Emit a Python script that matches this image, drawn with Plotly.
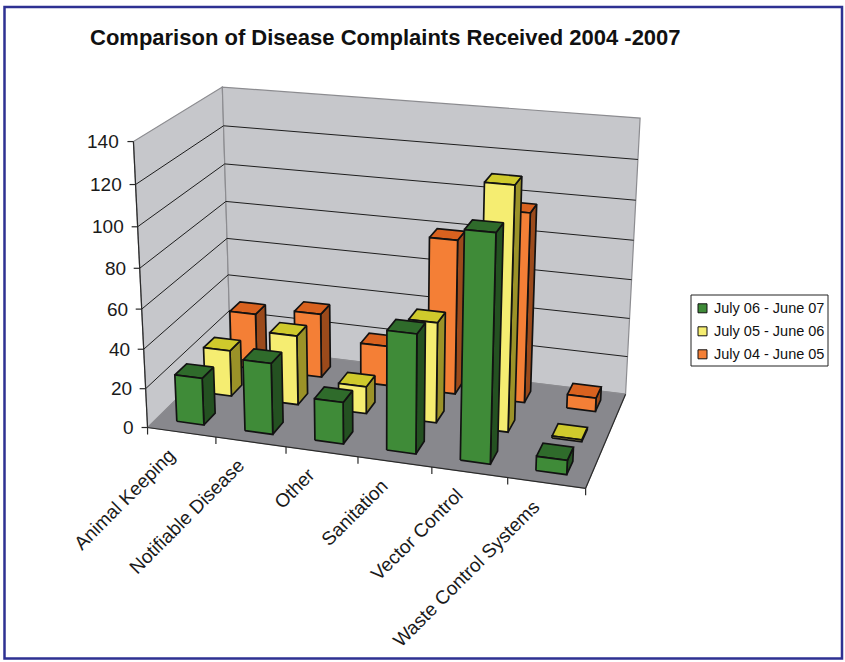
import numpy as np
import plotly.graph_objects as go

# ---- data -------------------------------------------------------------
categories = ["Animal Keeping", "Notifiable Disease", "Other", "Sanitation",
              "Vector Control", "Waste Control Systems"]
series_names = ["July 06 - June 07", "July 05 - June 06", "July 04 - June 05"]
complaints_0607 = [24, 36, 21, 59, 110, 7]
complaints_0506 = [24, 36, 14, 51, 121, 1]
complaints_0405 = [30, 34, 21, 80, 97, 7]
value_ticks = [0, 20, 40, 60, 80, 100, 120, 140]

# ---- page / 3D box layout ----------------------------------------------
W, H = 845, 662
VMAX = 140
NCAT = len(categories)
FONT = "Liberation Sans, Arial, Helvetica, sans-serif"

# Where points of the 3D plot box land on the page:
# (category position, depth 0..1, value) -> (x px, y px)
box_points = [
    ((0, 0, 0), (148.3, 427.7)),
    ((6, 0, 0), (585.0, 489.3)),
    ((0, 0, 140), (133.0, 142.5)),
    ((0, 1, 140), (222.3, 87.3)),
    ((6, 1, 140), (640.7, 119.0)),
    ((6, 1, 0), (626.0, 391.0)),
    ((0, 1, 0), (229.5, 348.0)),
    ((1, 0, 0), (215.7, 437.2)),
    ((2, 0, 0), (286.7, 447.2)),
    ((3, 0, 0), (357.7, 457.2)),
    ((4, 0, 0), (432.3, 467.8)),
    ((5, 0, 0), (506.7, 478.3)),
    ((0, 0, 20), (146.2, 388.0)),
    ((0, 0, 40), (144.0, 348.0)),
    ((0, 0, 60), (141.9, 308.0)),
    ((0, 0, 80), (139.7, 268.0)),
    ((0, 0, 100), (137.5, 226.0)),
    ((0, 0, 120), (135.2, 184.0)),
]


def solve_camera(points):
    """Least-squares 3x4 perspective camera from 3D->2D correspondences."""
    rows, rhs = [], []
    for (X, Y, Z), (u, v) in points:
        rows.append([X, Y, Z, 1, 0, 0, 0, 0, -u * X, -u * Y, -u * Z])
        rhs.append(u)
        rows.append([0, 0, 0, 0, X, Y, Z, 1, -v * X, -v * Y, -v * Z])
        rhs.append(v)
    p, *_ = np.linalg.lstsq(np.array(rows, float), np.array(rhs, float), rcond=None)
    return np.append(p, 1.0).reshape(3, 4)


CAM = solve_camera(box_points)


def proj(X, Y, Z):
    h = CAM @ np.array([X, Y, Z, 1.0])
    return float(h[0] / h[2]), float(h[1] / h[2])


fig = go.Figure()


def polygon(pts3d, fill, line_color="#121212", width=1.7):
    xy = [proj(*p) for p in pts3d]
    xs = [q[0] for q in xy] + [xy[0][0]]
    ys = [q[1] for q in xy] + [xy[0][1]]
    fig.add_trace(go.Scatter(
        x=xs, y=ys, mode="lines", fill="toself", fillcolor=fill,
        line=dict(color=line_color, width=width, simplify=False),
        hoverinfo="skip", showlegend=False))


def segments(segs, color, width):
    xs, ys = [], []
    for a, b in segs:
        xs += [a[0], b[0], None]
        ys += [a[1], b[1], None]
    fig.add_trace(go.Scatter(
        x=xs, y=ys, mode="lines", line=dict(color=color, width=width),
        hoverinfo="skip", showlegend=False))


# ---- walls and floor ----------------------------------------------------
WALL = "#c6c7cb"
FLOOR = "#88888d"
EDGE = "#8c8c90"

polygon([(0, 0, 0), (0, 1, 0), (0, 1, VMAX), (0, 0, VMAX)], WALL, EDGE, 1.2)
polygon([(0, 1, 0), (NCAT, 1, 0), (NCAT, 1, VMAX), (0, 1, VMAX)], WALL, EDGE, 1.2)

grid = []
for v in value_ticks[1:-1]:
    grid.append((proj(0, 0, v), proj(0, 1, v)))
    grid.append((proj(0, 1, v), proj(NCAT, 1, v)))
segments(grid, "#1e1e1e", 1)

polygon([(0, 0, 0), (NCAT, 0, 0), (NCAT, 1, 0), (0, 1, 0)], FLOOR, EDGE, 1.0)

# axis edges
segments([(proj(0, 0, 0), proj(0, 0, VMAX)),
          (proj(0, 0, 0), proj(NCAT, 0, 0)),
          (proj(NCAT, 0, 0), proj(NCAT, 1, 0))], "#2a2a2a", 1.2)

# tick marks
ticks = []
for i in range(NCAT + 1):
    x, y = proj(i, 0, 0)
    ticks.append(((x, y), (x, y + 7)))
for v in value_ticks:
    x, y = proj(0, 0, v)
    ticks.append(((x - 6, y), (x, y)))
segments(ticks, "#2a2a2a", 1.2)

# ---- bars -----------------------------------------------------------------
rows = [complaints_0607, complaints_0506, complaints_0405]   # front -> back
face_colors = [
    ("#3f8b38", "#2f6b2b", "#245121"),   # front, top, side
    ("#f5ed71", "#cfca2c", "#9b9228"),
    ("#f47f36", "#d9621f", "#9b4a1b"),
]
GAP = 0.3   # 150% gap width / gap depth

NROW = len(rows)
for s in reversed(range(NROW)):
    front_c, top_c, side_c = face_colors[s]
    d0 = (s + GAP) / NROW
    d1 = (s + 1 - GAP) / NROW
    for i, v in enumerate(rows[s]):
        x0, x1 = i + GAP, i + 1 - GAP
        polygon([(x1, d0, 0), (x1, d1, 0), (x1, d1, v), (x1, d0, v)], side_c)
        polygon([(x0, d0, v), (x1, d0, v), (x1, d1, v), (x0, d1, v)], top_c)
        polygon([(x0, d0, 0), (x1, d0, 0), (x1, d0, v), (x0, d0, v)], front_c)

# ---- text -----------------------------------------------------------------
ann = []
for v in value_ticks:
    x, y = proj(0, 0, v)
    ann.append(dict(x=x - 12, y=y, text=str(v), showarrow=False,
                    xanchor="right", yanchor="middle",
                    font=dict(family=FONT, size=19, color="#1a1a1a")))
for i, name in enumerate(categories):
    x, y = proj(i + 0.5, 0, 0)
    ann.append(dict(x=x, y=y + 10, text=name, showarrow=False, textangle=-45,
                    xanchor="right", yanchor="top",
                    font=dict(family=FONT, size=19, color="#1a1a1a")))
ann.append(dict(x=88, y=37, text="Comparison of Disease Complaints Received 2004 -2007",
                showarrow=False, xanchor="left", yanchor="middle",
                font=dict(family=FONT, size=22, color="#111111", weight="bold")))

# legend box
shapes = [dict(type="rect", x0=691, y0=295, x1=828, y1=366,
               line=dict(color="#222222", width=1), fillcolor="white", layer="above")]
for k, name in enumerate(series_names):
    cy = 308.3 + k * 23
    shapes.append(dict(type="rect", x0=698, y0=cy - 4.5, x1=707, y1=cy + 4.5,
                       fillcolor=face_colors[k][0], line=dict(color="#111111", width=1),
                       layer="above"))
    ann.append(dict(x=712, y=cy, text=name, showarrow=False,
                    xanchor="left", yanchor="middle",
                    font=dict(family=FONT, size=14.5, color="#111111")))

# page border
shapes.append(dict(type="rect", x0=4.5, y0=7, x1=842, y1=658.5,
                   line=dict(color="#2e3192", width=2.5), layer="above"))

fig.update_layout(
    width=W, height=H, margin=dict(l=0, r=0, t=0, b=0, pad=0),
    paper_bgcolor="white", plot_bgcolor="white", showlegend=False,
    xaxis=dict(range=[0, W], visible=False, fixedrange=True),
    yaxis=dict(range=[H, 0], visible=False, fixedrange=True),
    annotations=ann, shapes=shapes,
)

fig.write_html("out.html")
